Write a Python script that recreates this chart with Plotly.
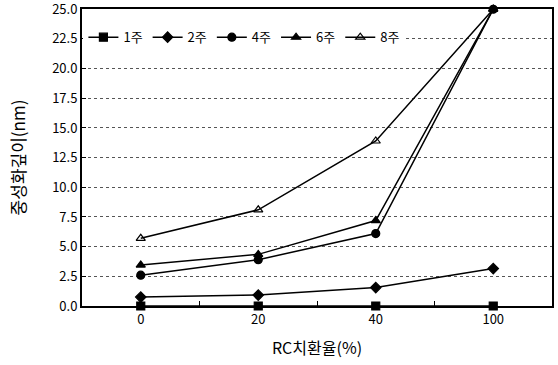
import plotly.graph_objects as go

categories = ["0", "20", "40", "100"]
series_names = ["1주", "2주", "4주", "6주", "8주"]
w1 = [0.0, 0.0, 0.0, 0.0]
w2 = [0.75, 0.92, 1.55, 3.15]
w4 = [2.6, 3.9, 6.1, 25.0]
w6 = [3.45, 4.35, 7.2, 25.0]
w8 = [5.7, 8.1, 13.9, 25.0]
y_ticks = [0, 2.5, 5, 7.5, 10, 12.5, 15, 17.5, 20, 22.5, 25]

series = [w1, w2, w4, w6, w8]
symbols = ["square", "diamond", "circle", "triangle-up", "triangle-up-open"]

fig = go.Figure()
for name, vals, sym in zip(series_names, series, symbols):
    fig.add_trace(go.Scatter(
        x=categories, y=vals, name=name, mode="lines+markers",
        line=dict(color="black", width=1.5),
        marker=dict(symbol=sym, size=8, color="black",
                    line=dict(color="black", width=1.2)),
        cliponaxis=False,
    ))

font_family = "Noto Sans CJK KR, Noto Sans, sans-serif"
fig.update_layout(
    width=558, height=365,
    margin=dict(l=82, r=6, t=9, b=59, autoexpand=False),
    paper_bgcolor="white", plot_bgcolor="white",
    font=dict(family=font_family, size=13, color="black"),
    showlegend=True,
    legend=dict(orientation="h", x=0.003, y=0.905, xanchor="left", yanchor="middle",
                bgcolor="white", font=dict(size=13), itemwidth=30,
                tracegroupgap=0, itemsizing="trace"),
    xaxis=dict(type="category", range=[-0.5, 3.5], showgrid=False, automargin=False,
               showline=True, linecolor="black", linewidth=2, mirror=True,
               ticks="inside", tickson="boundaries", ticklen=5, tickcolor="black",
               title=dict(text="RC치환율(%)", font=dict(size=16), standoff=16),
               tickfont=dict(size=13)),
    yaxis=dict(range=[0, 25.02], tickvals=y_ticks, tickformat=".1f",
               ticklabeloverflow="allow", automargin=False,
               showgrid=True, gridcolor="#555555", griddash="dot", gridwidth=1,
               showline=True, linecolor="black", linewidth=2, mirror=True,
               ticks="inside", ticklen=4, tickcolor="black", zeroline=False,
               title=dict(text="중성화깊이(nm)", font=dict(size=17), standoff=22),
               tickfont=dict(size=13)),
)

fig.write_html("out.html")
